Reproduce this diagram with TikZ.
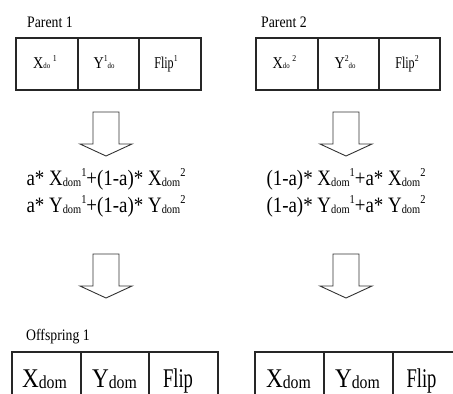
\documentclass[tikz,border=0pt]{standalone}
\usepackage{fontspec}
\usepackage{graphicx}
\setmainfont{Liberation Serif}[FakeStretch=0.86]
\newcommand\mysub[2][0.55]{\raisebox{-0.06em}{\scalebox{#1}{#2}}}
\newcommand\mysup[2][0.55]{\raisebox{0.38em}{\scalebox{#1}{#2}}}
\begin{document}
\begin{tikzpicture}[x=1pt,y=-1pt,
  boxline/.style={draw=black!85, line width=1.2pt},
  arrowline/.style={draw=black!80, line width=0.9pt, line join=miter},
  label/.style={anchor=base west, inner sep=0pt, font=\fontsize{16}{18}\selectfont},
  small/.style={anchor=base, inner sep=0pt, font=\fontsize{16.5}{18}\selectfont},
  formula/.style={anchor=base, inner sep=0pt, font=\fontsize{22}{24}\selectfont},
  big/.style={anchor=base, inner sep=0pt, font=\fontsize{27}{30}\selectfont},
  blockarrow/.pic={\draw[arrowline] (-13,0) -- (13,0) -- (13,32) -- (26,32) -- (0,44) -- (-26,32) -- (-13,32) -- cycle;}
]
\useasboundingbox (0,0) rectangle (453,394);
\clip (0,0) rectangle (453,394);

% Parent labels
\node[label] (p1) at (27,27) {Parent 1};
\node[label] (p2) at (261,27) {Parent 2};

% Parent boxes
\draw[boxline] (16,38) rectangle (201,90);
\draw[boxline] (78,38) -- (78,90);
\draw[boxline] (139,38) -- (139,90);
\draw[boxline] (256,38) rectangle (440,90);
\draw[boxline] (318,38) -- (318,90);
\draw[boxline] (379,38) -- (379,90);

\node[small] (a1) at (45,68) {X\mysub[0.48]{do}\,\mysup{1}};
\node[small] (a2) at (104,68) {Y\mysup{1}\mysub[0.48]{do}};
\node[small] (a3) at (166,68) {\scalebox{0.85}[1]{Flip}\mysup{1}};
\node[small] (b1) at (284.5,68) {X\mysub[0.48]{do}\,\mysup{2}};
\node[small] (b2) at (345,68) {Y\mysup{2}\mysub[0.48]{do}};
\node[small] (b3) at (407,68) {\scalebox{0.85}[1]{Flip}\mysup{2}};

% arrows
\pic at (106,112) {blockarrow};
\pic at (346,112) {blockarrow};
\pic at (106,254) {blockarrow};
\pic at (346,254) {blockarrow};

% formulas
\node[formula] (f1) at (106,185) {a* X\mysub{dom}\mysup{1}+(1-a)* X\mysub{dom}\mysup{2}};
\node[formula] (f2) at (106,212) {a* Y\mysub{dom}\mysup{1}+(1-a)* Y\mysub{dom}\mysup{2}};
\node[formula] (f3) at (346,185) {(1-a)* X\mysub{dom}\mysup{1}+a* X\mysub{dom}\mysup{2}};
\node[formula] (f4) at (346,212) {(1-a)* Y\mysub{dom}\mysup{1}+a* Y\mysub{dom}\mysup{2}};

% offspring
\node[label] (o1) at (26,340) {Offspring 1};
\draw[boxline] (12,352) rectangle (218,410);
\draw[boxline] (81,352) -- (81,410);
\draw[boxline] (149,352) -- (149,410);
\draw[boxline] (255,352) rectangle (456,410);
\draw[boxline] (324,352) -- (324,410);
\draw[boxline] (393,352) -- (393,410);

\node[big] (c1) at (44.5,387) {X\mysub[0.68]{dom}};
\node[big] (c2) at (114.5,387) {Y\mysub[0.68]{dom}};
\node[big] (c3) at (178,387) {\scalebox{0.8}[1]{Flip}};
\node[big] (d1) at (288.5,387) {X\mysub[0.68]{dom}};
\node[big] (d2) at (357.5,387) {Y\mysub[0.68]{dom}};
\node[big] (d3) at (421.5,387) {\scalebox{0.8}[1]{Flip}};
\end{tikzpicture}
\end{document}
